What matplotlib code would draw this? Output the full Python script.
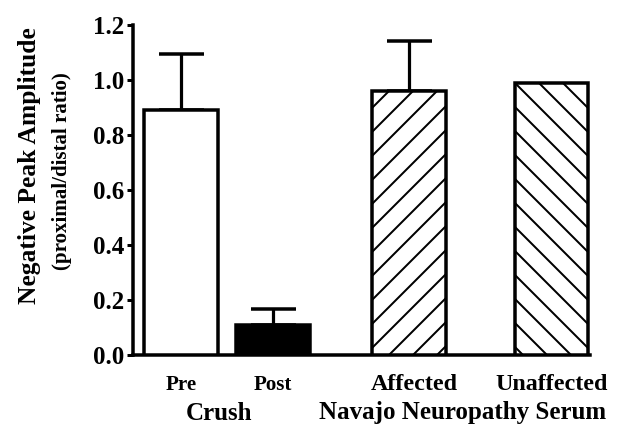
import numpy as np
import matplotlib
matplotlib.use('Agg')
import matplotlib.pyplot as plt

# data
groups = ['Pre', 'Post', 'Affected', 'Unaffected']
means = [0.89, 0.11, 0.96, 0.99]
errors = [0.205, 0.057, 0.18, 0.0]
positions = [0.0, 1.0, 2.48, 4.03]
yticks = [0.0, 0.2, 0.4, 0.6, 0.8, 1.0, 1.2]

DPI = 144
W, H = 638, 434
px = 72.0 / DPI  # one output pixel in points

plt.rcParams['font.family'] = 'Liberation Serif'
plt.rcParams['hatch.linewidth'] = 2.0 * px
plt.rcParams['hatch.color'] = 'black'

fig = plt.figure(figsize=(W / DPI, H / DPI), dpi=DPI)
ax = fig.add_axes([133 / W, 1 - 355 / H, (590 - 133) / W, (355 - 25) / H])

faces = ['white', 'black', 'white', 'white']
hatches = ['', '', '//', '\\\\']
for x, m, fc, ht in zip(positions, means, faces, hatches):
    ax.bar(x, m, width=0.8, facecolor=fc, edgecolor='black',
           linewidth=3.5 * px, hatch=ht, zorder=3)

for x, m, e in zip(positions, means, errors):
    if e > 0:
        ax.errorbar(x, m, yerr=[[0], [e]], fmt='none', ecolor='black',
                    elinewidth=3.2 * px, capsize=22.5 * px,
                    capthick=3.5 * px, zorder=2)

ax.set_xlim(-0.52, 4.45)
ax.set_ylim(0, 1.2)
ax.set_yticks(yticks)
ax.set_yticklabels([f'{v:.1f}' for v in yticks], fontsize=25 * px,
                   fontweight='bold')
ax.set_xticks([])
for s in ['top', 'right']:
    ax.spines[s].set_visible(False)
ax.spines['left'].set_linewidth(3.5 * px)
ax.spines['bottom'].set_linewidth(3.5 * px)
ax.tick_params(axis='y', direction='out', length=6 * px, width=3 * px,
               pad=3 * px)

# category labels (Affected sits a little right of its bar in the original)
label_size = {'Pre': 21, 'Post': 21, 'Affected': 24, 'Unaffected': 24}
label_shift = {'Pre': 0, 'Post': 0, 'Affected': 5, 'Unaffected': 0}
for x, g in zip(positions, groups):
    ax.annotate(g, xy=(x, 0), xycoords=('data', 'axes fraction'),
                xytext=(label_shift[g] * px, -30 * px),
                textcoords='offset points', ha='center', va='center',
                fontsize=label_size[g] * px, fontweight='bold')

fig.text(219 / W, 1 - 413 / H, 'Crush', ha='center', va='center',
         fontsize=25 * px, fontweight='bold')
fig.text(463 / W, 1 - 413 / H, 'Navajo Neuropathy Serum', ha='center',
         va='center', fontsize=25 * px, fontweight='bold')

fig.text(30 / W, 1 - 166 / H, 'Negative Peak Amplitude', rotation=90,
         ha='center', va='center', fontsize=25.5 * px, fontweight='bold')
fig.text(62 / W, 1 - 171 / H, '(proximal/distal ratio)', rotation=90,
         ha='center', va='center', fontsize=21 * px, fontweight='bold')

fig.savefig('out.png', dpi=DPI)
